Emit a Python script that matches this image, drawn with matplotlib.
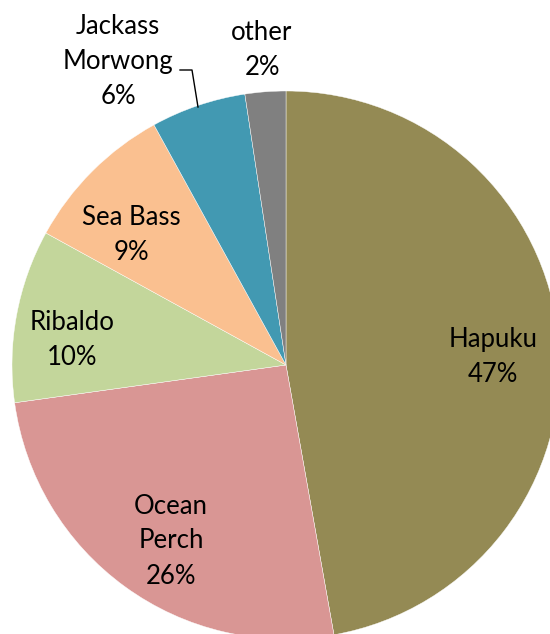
import matplotlib.pyplot as plt

W, H = 550, 634

species = ["Hapuku", "Ocean\nPerch", "Ribaldo", "Sea Bass", "Jackass\nMorwong", "other"]
shares = [47.2, 25.6, 10.2, 9.0, 5.6, 2.4]
pct_labels = ["47%", "26%", "10%", "9%", "6%", "2%"]
colors = ["#948A54", "#D99694", "#C3D69B", "#FAC090", "#4299B2", "#808080"]

# label centres in pixel coords (x from left, y from top)
label_pos = [(493, 357), (171, 541), (72, 340), (131, 235), (118, 61), (262, 50)]

plt.rcParams["font.family"] = ["Lato", "DejaVu Sans"]

fig = plt.figure(figsize=(W / 100, H / 100), dpi=100)
ax = fig.add_axes([0, 0, 1, 1])

ax.pie(
    shares,
    colors=colors,
    startangle=90,
    counterclock=False,
    center=(286, H - 365),
    radius=274,
    wedgeprops=dict(edgecolor="white", linewidth=0.3),
    frame=True,
)

for name, pct, (x, y) in zip(species, pct_labels, label_pos):
    ax.text(x, H - y, f"{name}\n{pct}", ha="center", va="center",
            fontsize=18.5, linespacing=1.5, color="black")

# leader line for Jackass Morwong
ax.plot([180, 192, 198], [H - 70, H - 70, H - 107], color="black", lw=1)

ax.set_xlim(0, W)
ax.set_ylim(0, H)
ax.set_aspect("equal")
ax.axis("off")

fig.savefig("out.png", dpi=100)
